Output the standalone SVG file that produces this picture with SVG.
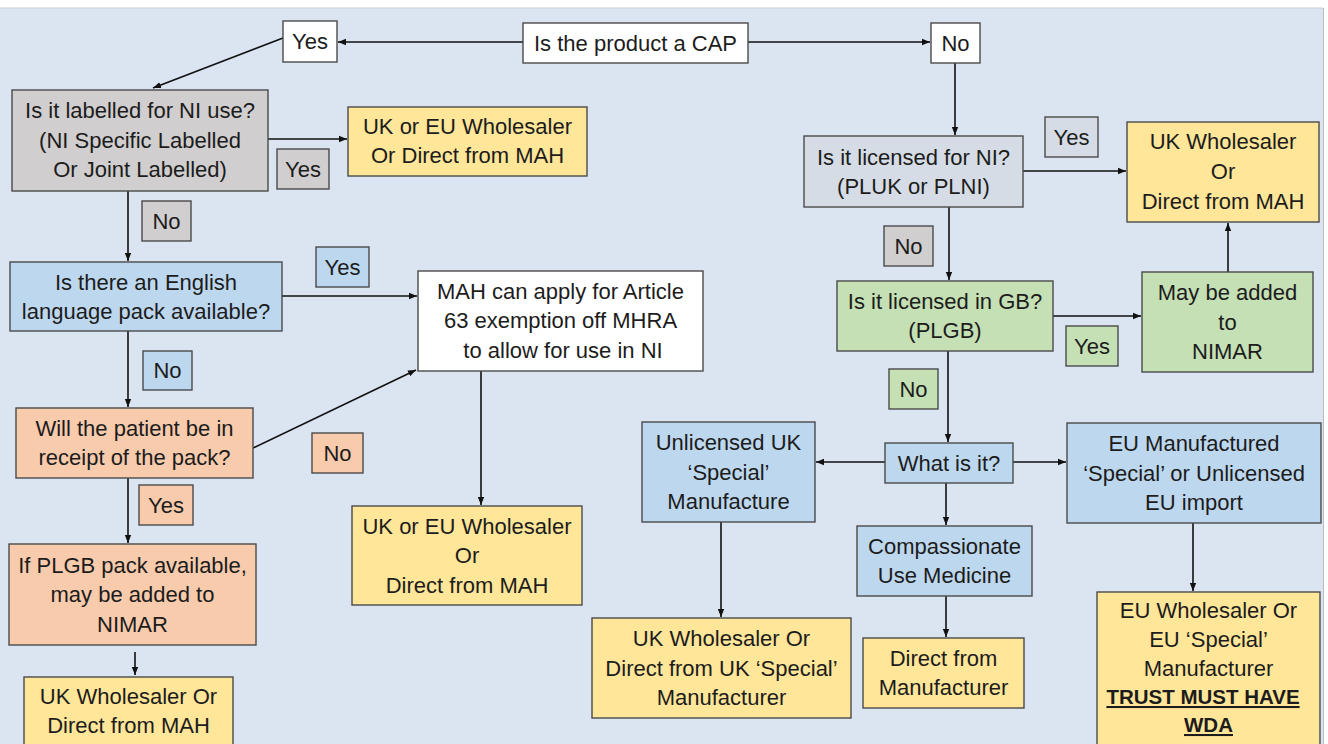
<svg xmlns="http://www.w3.org/2000/svg" width="1328" height="744" viewBox="0 0 1328 744">
<defs>
<marker id="ah" viewBox="0 0 10 10" refX="10" refY="5" markerWidth="8" markerHeight="8" markerUnits="userSpaceOnUse" orient="auto">
<path d="M0,1 L10,5 L0,9 z" fill="#111"/>
</marker>
<style>
.bx{stroke:#4a4a4a;stroke-width:1.4}
.w{fill:#ffffff}
.g{fill:#d0cece}
.n{fill:#d6dce5}
.b{fill:#bdd7ee}
.o{fill:#f8cbad}
.y{fill:#ffe699}
.gr{fill:#c5e0b4}
text{font-family:"Liberation Sans",Arial,sans-serif;font-size:22px;fill:#1c1c1c;text-anchor:middle}
text.bu{font-weight:bold;text-decoration:underline;font-size:20.5px}
.c line,.c path{stroke:#111;stroke-width:1.6;fill:none;marker-end:url(#ah)}
</style>
</defs>
<rect x="0" y="0" width="1328" height="744" fill="#ffffff"/>
<rect x="0" y="8" width="1323" height="736" fill="#dbe5f1"/>
<line x1="0" y1="8" x2="1323" y2="8" stroke="#c8ccd2" stroke-width="1"/>
<line x1="1323.5" y1="8" x2="1323.5" y2="744" stroke="#b8bcc2" stroke-width="1"/>

<g id="connectors" class="c">
<line x1="523" y1="42" x2="338" y2="42"/>
<line x1="748" y1="42" x2="930" y2="42"/>
<line x1="283" y1="38" x2="153" y2="88"/>
<line x1="268" y1="139" x2="347" y2="139"/>
<line x1="128" y1="191" x2="128" y2="261"/>
<line x1="282" y1="296" x2="417" y2="296"/>
<line x1="128" y1="331" x2="128" y2="407"/>
<line x1="253" y1="448" x2="416" y2="370"/>
<line x1="128" y1="478" x2="128" y2="543"/>
<line x1="135" y1="652" x2="135" y2="675"/>
<line x1="481" y1="371" x2="481" y2="505"/>
<line x1="955" y1="63" x2="955" y2="135"/>
<line x1="1023" y1="171" x2="1126" y2="171"/>
<line x1="949" y1="207" x2="949" y2="280"/>
<line x1="1053" y1="316" x2="1141" y2="316"/>
<line x1="1228" y1="272" x2="1228" y2="223"/>
<line x1="948" y1="351" x2="948" y2="442"/>
<line x1="885" y1="462" x2="816" y2="462"/>
<line x1="1013" y1="462" x2="1066" y2="462"/>
<line x1="946" y1="483" x2="946" y2="525"/>
<line x1="946" y1="596" x2="946" y2="637"/>
<line x1="721" y1="522" x2="721" y2="617"/>
<line x1="1193" y1="523" x2="1193" y2="591"/>
</g>

<g id="cap"><rect class="bx w" x="523" y="23" width="225" height="40"/><text x="635.5" y="50.5">Is the product a CAP</text></g>
<g id="yes_cap"><rect class="bx w" x="283" y="21" width="54" height="41"/><text x="310" y="49">Yes</text></g>
<g id="no_cap"><rect class="bx w" x="931" y="23" width="49" height="40"/><text x="955.5" y="50.5">No</text></g>

<g id="ni_labelled"><rect class="bx g" x="12" y="90" width="256" height="101"/>
<text x="140" y="118">Is it labelled for NI use?</text>
<text x="140" y="148">(NI Specific Labelled</text>
<text x="140" y="177">Or Joint Labelled)</text></g>
<g id="yes_labelled"><rect class="bx g" x="277" y="149" width="52" height="40"/><text x="303" y="176.5">Yes</text></g>
<g id="no_labelled"><rect class="bx g" x="142" y="201" width="49" height="40"/><text x="166.5" y="228.5">No</text></g>
<g id="ukeu_ws1"><rect class="bx y" x="348" y="107" width="239" height="69"/>
<text x="467.5" y="134">UK or EU Wholesaler</text>
<text x="467.5" y="163">Or Direct from MAH</text></g>

<g id="english"><rect class="bx b" x="10" y="262" width="272" height="69"/>
<text x="146" y="289.5">Is there an English</text>
<text x="146" y="318.5">language pack available?</text></g>
<g id="yes_english"><rect class="bx b" x="316" y="247" width="53" height="40"/><text x="342.5" y="274.5">Yes</text></g>
<g id="no_english"><rect class="bx b" x="143" y="351" width="49" height="39"/><text x="167.5" y="378">No</text></g>

<g id="mah_art63"><rect class="bx w" x="418" y="271" width="285" height="100"/>
<text x="560.5" y="298.5">MAH can apply for Article</text>
<text x="560.5" y="328">63 exemption off MHRA</text>
<text x="563" y="357.5">to allow for use in NI</text></g>

<g id="patient"><rect class="bx o" x="16" y="408" width="237" height="70"/>
<text x="134.5" y="436">Will the patient be in</text>
<text x="134.5" y="465">receipt of the pack?</text></g>
<g id="no_patient"><rect class="bx o" x="312" y="433" width="51" height="40"/><text x="337.5" y="460.5">No</text></g>
<g id="yes_patient"><rect class="bx o" x="139" y="485" width="54" height="40"/><text x="166" y="512.5">Yes</text></g>

<g id="plgb_pack"><rect class="bx o" x="9" y="544" width="247" height="101"/>
<text x="132.5" y="572.5">If PLGB pack available,</text>
<text x="132.5" y="602">may be added to</text>
<text x="132.5" y="631.5">NIMAR</text></g>
<g id="uk_ws_left"><rect class="bx y" x="24" y="677" width="209" height="80"/>
<text x="128.5" y="703.5">UK Wholesaler Or</text>
<text x="128.5" y="732.5">Direct from MAH</text></g>

<g id="ukeu_ws2"><rect class="bx y" x="352" y="506" width="230" height="99"/>
<text x="467" y="533.5">UK or EU Wholesaler</text>
<text x="467" y="563">Or</text>
<text x="467" y="592.5">Direct from MAH</text></g>

<g id="ni_licensed"><rect class="bx n" x="804" y="136" width="219" height="71"/>
<text x="913.5" y="164.5">Is it licensed for NI?</text>
<text x="913.5" y="193.5">(PLUK or PLNI)</text></g>
<g id="yes_ni"><rect class="bx n" x="1045" y="117" width="53" height="40"/><text x="1071.5" y="144.5">Yes</text></g>
<g id="no_ni"><rect class="bx g" x="884" y="226" width="49" height="40"/><text x="908.5" y="253.5">No</text></g>
<g id="uk_ws_right"><rect class="bx y" x="1127" y="122" width="192" height="100"/>
<text x="1223" y="149">UK Wholesaler</text>
<text x="1223" y="179">Or</text>
<text x="1223" y="209">Direct from MAH</text></g>

<g id="gb_licensed"><rect class="bx gr" x="837" y="281" width="216" height="70"/>
<text x="945" y="309">Is it licensed in GB?</text>
<text x="945" y="338">(PLGB)</text></g>
<g id="yes_gb"><rect class="bx gr" x="1066" y="326" width="52" height="40"/><text x="1092" y="353.5">Yes</text></g>
<g id="nimar"><rect class="bx gr" x="1142" y="272" width="171" height="100"/>
<text x="1227.5" y="300">May be added</text>
<text x="1227.5" y="329.5">to</text>
<text x="1227.5" y="359">NIMAR</text></g>
<g id="no_gb"><rect class="bx gr" x="889" y="369" width="49" height="40"/><text x="913.5" y="396.5">No</text></g>

<g id="what"><rect class="bx b" x="885" y="443" width="128" height="40"/><text x="949" y="470.5">What is it?</text></g>
<g id="unlicensed_uk"><rect class="bx b" x="642" y="422" width="173" height="100"/>
<text x="728.5" y="450">Unlicensed UK</text>
<text x="728.5" y="479.5">‘Special’</text>
<text x="728.5" y="509">Manufacture</text></g>
<g id="eu_manufactured"><rect class="bx b" x="1067" y="423" width="254" height="100"/>
<text x="1194" y="451">EU Manufactured</text>
<text x="1194" y="480.5">‘Special’ or Unlicensed</text>
<text x="1194" y="510">EU import</text></g>
<g id="compassionate"><rect class="bx b" x="857" y="526" width="175" height="70"/>
<text x="944.5" y="554">Compassionate</text>
<text x="944.5" y="583">Use Medicine</text></g>

<g id="uk_special_ws"><rect class="bx y" x="592" y="618" width="259" height="100"/>
<text x="721.5" y="646">UK Wholesaler Or</text>
<text x="721.5" y="675.5">Direct from UK ‘Special’</text>
<text x="721.5" y="705">Manufacturer</text></g>
<g id="direct_manufacturer"><rect class="bx y" x="863" y="638" width="161" height="70"/>
<text x="943.5" y="666">Direct from</text>
<text x="943.5" y="695">Manufacturer</text></g>
<g id="eu_ws"><rect class="bx y" x="1097" y="592" width="223" height="170"/>
<text x="1208.5" y="618">EU Wholesaler Or</text>
<text x="1208.5" y="647">EU ‘Special’</text>
<text x="1208.5" y="676">Manufacturer</text>
<text class="bu" x="1203" y="704">TRUST MUST HAVE</text>
<text class="bu" x="1208.5" y="732">WDA</text></g>
</svg>
